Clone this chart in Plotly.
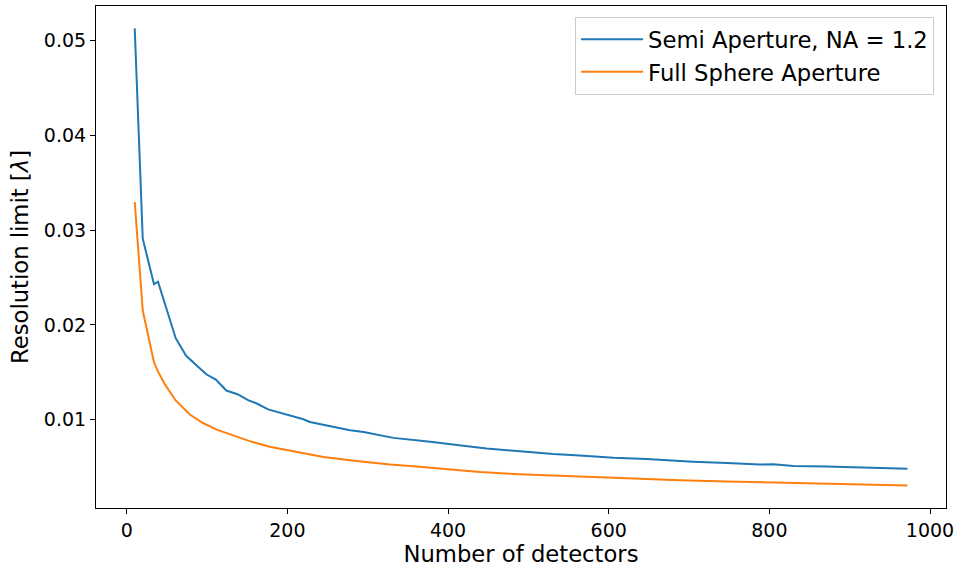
import plotly.graph_objects as go

semi_x = [10, 20, 34, 39, 61, 74, 99, 111, 124, 138, 151, 162, 176, 203, 220, 228, 245, 266, 278, 295,
          315, 332, 378, 403, 419, 448, 481, 531, 564, 606, 647, 689, 705, 747, 788, 805, 830, 871, 913, 972]
semi_y = [0.0513, 0.0291, 0.0243, 0.02456, 0.0186, 0.01674, 0.01479, 0.01423, 0.01308, 0.01269, 0.01206,
          0.01171, 0.01109, 0.01046, 0.01004, 0.00976, 0.00945, 0.00913, 0.00889, 0.00871,
          0.00837, 0.00808, 0.00766, 0.00738, 0.00725, 0.00697, 0.00675, 0.00637, 0.00623, 0.00599,
          0.00585, 0.00564, 0.00557, 0.00543, 0.00526, 0.00529, 0.00512, 0.00505, 0.00494, 0.00481]

full_x = [10, 20, 34, 39, 48, 61, 79, 95, 112, 129, 153, 178, 203, 245, 286, 315, 328, 357, 398, 440,
          481, 523, 564, 606, 647, 689, 747, 830, 913, 972]
full_y = [0.03297, 0.02152, 0.01604, 0.01507, 0.01367, 0.01203, 0.01052, 0.00965, 0.00895, 0.00843,
          0.00774, 0.00714, 0.00675, 0.00606, 0.00564, 0.00536, 0.00526, 0.00508, 0.00476, 0.00449,
          0.00428, 0.00410, 0.00400, 0.00386, 0.00372, 0.00361, 0.00348, 0.00330, 0.00316, 0.00306]

x_ticks = [0, 200, 400, 600, 800, 1000]
y_ticks = [0.01, 0.02, 0.03, 0.04, 0.05]

fig = go.Figure()
fig.add_trace(go.Scatter(x=semi_x, y=semi_y, mode="lines", name="Semi Aperture, NA = 1.2",
                         line=dict(color="#1f77b4", width=2)))
fig.add_trace(go.Scatter(x=full_x, y=full_y, mode="lines", name="Full Sphere Aperture",
                         line=dict(color="#ff7f0e", width=2)))

axis_common = dict(showline=True, mirror=True, linecolor="black", linewidth=1.1,
                   ticks="outside", ticklen=5, tickcolor="black", tickwidth=1.1,
                   showgrid=False, zeroline=False,
                   tickfont=dict(size=19, color="black"))

fig.update_layout(
    width=960, height=568,
    margin=dict(l=96, r=14, t=5, b=57),
    paper_bgcolor="white", plot_bgcolor="white",
    font=dict(family="DejaVu Sans", color="black"),
    xaxis=dict(range=[-38.2, 1019.9], tickvals=x_ticks, ticktext=[str(v) for v in x_ticks],
               title=dict(text="Number of detectors", font=dict(size=22.7), standoff=6),
               **axis_common),
    yaxis=dict(range=[0.00068, 0.05366], tickvals=y_ticks, ticktext=[f"{v:.2f}" for v in y_ticks],
               title=dict(text="Resolution limit [<i>λ</i>]", font=dict(size=22.7), standoff=8),
               **axis_common),
    legend=dict(x=0.986, y=0.978, xanchor="right", yanchor="top",
                bgcolor="white", bordercolor="#cccccc", borderwidth=1,
                font=dict(size=22.7), itemwidth=62),
    showlegend=True,
)

fig.write_html("out.html")
